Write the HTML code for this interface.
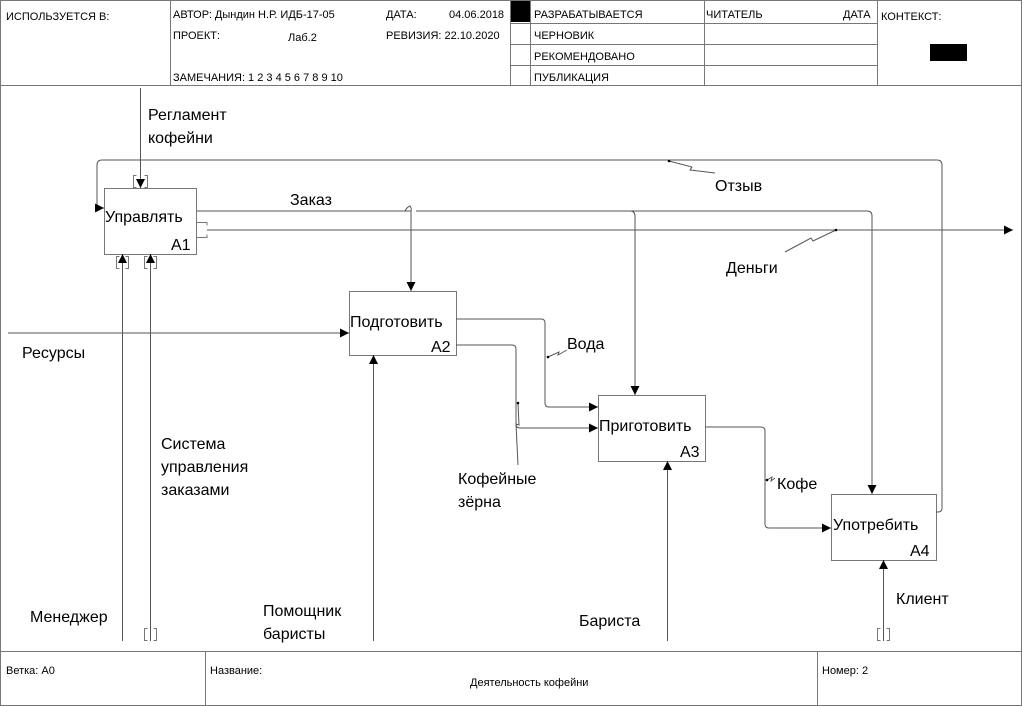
<!DOCTYPE html>
<html><head><meta charset="utf-8"><style>
html,body{margin:0;padding:0;background:#fff;}
svg{display:block;}
text{font-family:"Liberation Sans","Noto Sans CJK SC",sans-serif;fill:#000;}
.s{font-size:11px;}
.b{font-size:16px;}
</style></head><body>
<svg width="1023" height="707" viewBox="0 0 1023 707" xmlns="http://www.w3.org/2000/svg">
<defs>
<marker id="ar" viewBox="0 0 10 10" refX="10" refY="5" markerWidth="12" markerHeight="9" markerUnits="userSpaceOnUse" orient="auto"><path d="M0,0L10,5L0,10z" fill="#000"/></marker>
</defs>
<g fill="none" stroke="#777" stroke-width="1">
<rect x="0.5" y="0.5" width="1021" height="705"/>
<line x1="0" y1="85.5" x2="1022" y2="85.5"/>
<line x1="170.5" y1="0" x2="170.5" y2="85"/>
<line x1="510.5" y1="0" x2="510.5" y2="85"/>
<line x1="530.5" y1="0" x2="530.5" y2="85"/>
<line x1="704.5" y1="0" x2="704.5" y2="85"/>
<line x1="877.5" y1="0" x2="877.5" y2="85"/>
<line x1="510" y1="23.5" x2="877" y2="23.5"/>
<line x1="510" y1="44.5" x2="877" y2="44.5"/>
<line x1="510" y1="65.5" x2="877" y2="65.5"/>
<line x1="0" y1="651.5" x2="1022" y2="651.5"/>
<line x1="205.5" y1="651" x2="205.5" y2="706"/>
<line x1="817.5" y1="651" x2="817.5" y2="706"/>
<rect x="104.5" y="188.5" width="92" height="66"/>
<rect x="349.5" y="291.5" width="107" height="64"/>
<rect x="598.5" y="395.5" width="107" height="66"/>
<rect x="831.5" y="494.5" width="105" height="66"/>
<!-- tunnel brackets -->
<path d="M136.5,175.5h-3v12h3M144.5,175.5h3v12h-3"/>
<path d="M119.5,256.5h-3v12h3M125.5,256.5h3v12h-3M147.5,256.5h-3v12h3M153.5,256.5h3v12h-3"/>
<path d="M196,222.5h11v3M196,237.5h11v-3"/>
<path d="M147.5,628.5h-3v12h3M153.5,628.5h3v12h-3M880.5,628.5h-3v12h3M886.5,628.5h3v12h-3"/>
</g>
<rect x="511" y="1" width="19" height="21" fill="#000"/>
<rect x="930" y="44" width="37" height="17" fill="#000"/>
<g fill="none" stroke="#555" stroke-width="1">
<line x1="140.5" y1="88" x2="140.5" y2="188" marker-end="url(#ar)"/>
<path d="M936,512h2q4,0 4,-4V165q0,-5 -5,-5H102q-5,0 -5,5V208h7" marker-end="url(#ar)"/>
<path d="M197,211H405M416,211H867q5,0 5,5V494" marker-end="url(#ar)"/>
<path d="M405,211q2,-4 5,-5q2,3 1,5z"/>
<line x1="411" y1="211" x2="411" y2="291" marker-end="url(#ar)"/>
<path d="M416,211H630q5,0 5,5V395" marker-end="url(#ar)"/>
<line x1="207" y1="230" x2="1013" y2="230" marker-end="url(#ar)"/>
<line x1="8" y1="333" x2="349" y2="333" marker-end="url(#ar)"/>
<path d="M456,319H541q4,0 4,4V403q0,4 4,4H598" marker-end="url(#ar)"/>
<path d="M456,345H512q4,0 4,4V424q0,4 4,4H598" marker-end="url(#ar)"/>
<path d="M705,427H761q4,0 4,4V524q0,4 4,4H831" marker-end="url(#ar)"/>
<line x1="122.5" y1="641" x2="122.5" y2="254" marker-end="url(#ar)"/>
<line x1="150.5" y1="641" x2="150.5" y2="254" marker-end="url(#ar)"/>
<line x1="373.5" y1="641" x2="373.5" y2="355" marker-end="url(#ar)"/>
<line x1="667.5" y1="641" x2="667.5" y2="461" marker-end="url(#ar)"/>
<line x1="883.5" y1="641" x2="883.5" y2="560" marker-end="url(#ar)"/>
<path d="M669,161L692,167L690,170L715,173"/>
<path d="M836,230L813,241L811,238L785,252"/>
<path d="M548,357L559,352L558,355L567,350"/>
<path d="M518,403L519,425L516,424L518,465"/>
<path d="M767,480L772,477L771,481L775,478"/>
</g>
<g fill="#000"><circle cx="669" cy="161" r="1.3"/><circle cx="836" cy="230" r="1.3"/><circle cx="548" cy="357" r="1.3"/><circle cx="518" cy="403" r="1.3"/><circle cx="767" cy="480" r="1.3"/></g>
<g class="s">
<text x="6" y="20" class="s">ИСПОЛЬЗУЕТСЯ В:</text>
<text x="173" y="18" class="s">АВТОР: Дындин Н.Р. ИДБ-17-05</text>
<text x="386" y="18" class="s">ДАТА:</text>
<text x="449" y="18" class="s">04.06.2018</text>
<text x="173" y="39" class="s">ПРОЕКТ:</text>
<text x="288" y="41" class="s">Лаб.2</text>
<text x="386" y="39" class="s">РЕВИЗИЯ: 22.10.2020</text>
<text x="173" y="81" class="s">ЗАМЕЧАНИЯ:  1 2 3 4 5 6 7 8 9 10</text>
<text x="534" y="18" class="s">РАЗРАБАТЫВАЕТСЯ</text>
<text x="534" y="39" class="s">ЧЕРНОВИК</text>
<text x="534" y="60" class="s">РЕКОМЕНДОВАНО</text>
<text x="534" y="81" class="s">ПУБЛИКАЦИЯ</text>
<text x="706" y="18" class="s">ЧИТАТЕЛЬ</text>
<text x="843" y="18" class="s">ДАТА</text>
<text x="881" y="20" class="s">КОНТЕКСТ:</text>
<text x="6" y="674" class="s">Ветка: A0</text>
<text x="210" y="674" class="s">Название:</text>
<text x="470" y="686" class="s">Деятельность кофейни</text>
<text x="822" y="674" class="s">Номер: 2</text>
</g>
<g class="b">
<text x="105" y="222" class="b">Управлять</text><text x="171" y="250" class="b">A1</text>
<text x="350" y="327" class="b">Подготовить</text><text x="431" y="352" class="b">A2</text>
<text x="599" y="431" class="b">Приготовить</text><text x="680" y="457" class="b">A3</text>
<text x="833" y="530" class="b">Употребить</text><text x="910" y="556" class="b">A4</text>
<text x="148" y="120" class="b">Регламент</text><text x="148" y="143" class="b">кофейни</text>
<text x="290" y="205" class="b">Заказ</text>
<text x="715" y="191" class="b">Отзыв</text>
<text x="726" y="273" class="b">Деньги</text>
<text x="22" y="358" class="b">Ресурсы</text>
<text x="567" y="349" class="b">Вода</text>
<text x="458" y="484" class="b">Кофейные</text><text x="458" y="507" class="b">зёрна</text>
<text x="777" y="489" class="b">Кофе</text>
<text x="161" y="449" class="b">Система</text><text x="161" y="472" class="b">управления</text><text x="161" y="495" class="b">заказами</text>
<text x="30" y="622" class="b">Менеджер</text>
<text x="263" y="616" class="b">Помощник</text><text x="263" y="639" class="b">баристы</text>
<text x="579" y="626" class="b">Бариста</text>
<text x="896" y="604" class="b">Клиент</text>
</g>
</svg>
</body></html>
